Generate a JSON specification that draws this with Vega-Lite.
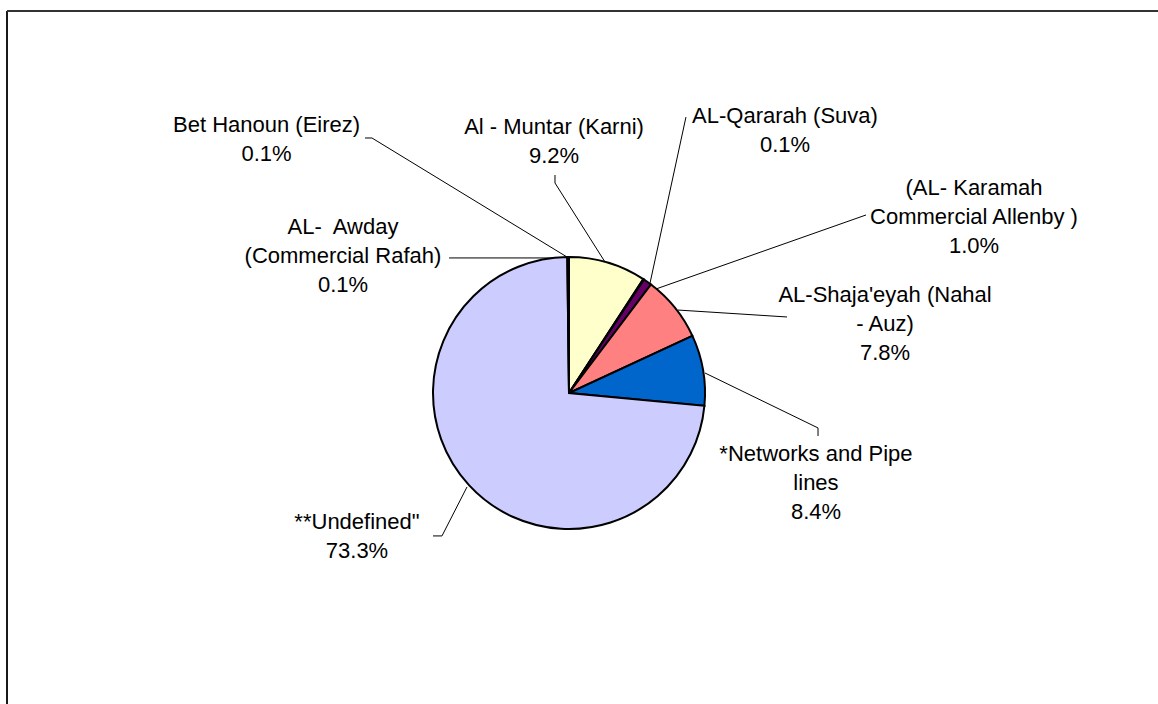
{
  "$schema": "https://vega.github.io/schema/vega-lite/v6.json",
  "width": 1151,
  "height": 693,
  "autosize": {"type": "none"},
  "padding": {"left": 7, "top": 11, "right": 0, "bottom": 0},
  "background": "white",
  "config": {
    "view": {"stroke": null},
    "font": "Liberation Sans"
  },
  "datasets": {
    "slices": [
      {"name": "Al - Muntar (Karni)", "value": 9.2, "order": 1},
      {"name": "AL-Qararah (Suva)", "value": 0.1, "order": 2},
      {"name": "(AL- Karamah Commercial Allenby )", "value": 1.0, "order": 3},
      {"name": "AL-Shaja'eyah (Nahal - Auz)", "value": 7.8, "order": 4},
      {"name": "*Networks and Pipe lines", "value": 8.4, "order": 5},
      {"name": "**Undefined\"", "value": 73.3, "order": 6},
      {"name": "AL-  Awday (Commercial Rafah)", "value": 0.1, "order": 7},
      {"name": "Bet Hanoun (Eirez)", "value": 0.1, "order": 8}
    ],
    "labels": [
      {"text": "Bet Hanoun (Eirez)\n0.1%", "lx": -2.224, "ly": 1.971},
      {"text": "Al - Muntar (Karni)\n9.2%", "lx": -0.11, "ly": 1.956},
      {"text": "AL-Qararah (Suva)\n0.1%", "lx": 1.588, "ly": 2.037},
      {"text": "(AL- Karamah\nCommercial Allenby )\n1.0%", "lx": 2.978, "ly": 1.507},
      {"text": "AL-Shaja'eyah (Nahal\n- Auz)\n7.8%", "lx": 2.324, "ly": 0.721},
      {"text": "*Networks and Pipe\nlines\n8.4%", "lx": 1.816, "ly": -0.449},
      {"text": "**Undefined\"\n73.3%", "lx": -1.559, "ly": -0.949},
      {"text": "AL-\u00a0 Awday\n(Commercial Rafah)\n0.1%", "lx": -1.662, "ly": 1.221}
    ],
    "leaders": [
      {"x": -1.5, "y": 1.875, "x2": -1.449, "y2": 1.875},
      {"x": -1.449, "y": 1.875, "x2": -0.0147, "y2": 1.0},
      {"x": -0.103, "y": 1.603, "x2": -0.103, "y2": 1.544},
      {"x": -0.103, "y": 1.544, "x2": 0.265, "y2": 0.963},
      {"x": -0.882, "y": 0.993, "x2": -0.0147, "y2": 0.993},
      {"x": 0.86, "y": 2.029, "x2": 0.596, "y2": 0.809},
      {"x": 2.184, "y": 1.309, "x2": 0.64, "y2": 0.765},
      {"x": 1.603, "y": 0.559, "x2": 0.801, "y2": 0.61},
      {"x": 1.0, "y": 0.147, "x2": 1.831, "y2": -0.257},
      {"x": 1.831, "y": -0.257, "x2": 1.831, "y2": -0.316},
      {"x": -0.75, "y": -0.691, "x2": -0.934, "y2": -1.051},
      {"x": -0.934, "y": -1.051, "x2": -1.0, "y2": -1.051}
    ]
  },
  "layer": [
    {
      "data": {"values": [{"edge": "left"}]},
      "mark": {"type": "rule", "color": "#1a1a1a", "strokeWidth": 2},
      "encoding": {
        "x": {"datum": -4.1324, "type": "quantitative", "scale": {"domain": [-4.1324, 4.3309], "nice": false, "zero": false}, "axis": null},
        "y": {"datum": -2.2868, "type": "quantitative", "scale": {"domain": [-2.2868, 2.8088], "nice": false, "zero": false}, "axis": null},
        "y2": {"datum": 2.8088}
      }
    },
    {
      "data": {"values": [{"edge": "top"}]},
      "mark": {"type": "rule", "color": "#333333", "strokeWidth": 2},
      "encoding": {
        "x": {"datum": -4.1324, "type": "quantitative"},
        "x2": {"datum": 4.3309},
        "y": {"datum": 2.8088, "type": "quantitative"}
      }
    },
    {
      "data": {"name": "leaders"},
      "mark": {"type": "rule", "color": "black", "strokeWidth": 1},
      "encoding": {
        "x": {"field": "x", "type": "quantitative"},
        "y": {"field": "y", "type": "quantitative"},
        "x2": {"field": "x2"},
        "y2": {"field": "y2"}
      }
    },
    {
      "data": {"name": "slices"},
      "mark": {"type": "arc", "outerRadius": 136, "stroke": "black", "strokeWidth": 2, "strokeJoin": "miter"},
      "encoding": {
        "x": {"datum": 0, "type": "quantitative"},
        "y": {"datum": 0, "type": "quantitative"},
        "theta": {"field": "value", "type": "quantitative", "stack": true},
        "order": {"field": "order", "type": "quantitative"},
        "color": {
          "field": "name",
          "type": "nominal",
          "legend": null,
          "scale": {
            "domain": ["Al - Muntar (Karni)", "AL-Qararah (Suva)", "(AL- Karamah Commercial Allenby )", "AL-Shaja'eyah (Nahal - Auz)", "*Networks and Pipe lines", "**Undefined\"", "AL-  Awday (Commercial Rafah)", "Bet Hanoun (Eirez)"],
            "range": ["#FFFFCC", "#CCFFFF", "#660066", "#FF8080", "#0066CC", "#CCCCFF", "#993366", "#9999FF"]
          }
        }
      }
    },
    {
      "data": {"name": "labels"},
      "mark": {"type": "text", "font": "Liberation Sans", "fontSize": 22, "color": "black", "align": "center", "baseline": "middle", "lineBreak": "\n", "lineHeight": 29},
      "encoding": {
        "x": {"field": "lx", "type": "quantitative"},
        "y": {"field": "ly", "type": "quantitative"},
        "text": {"field": "text", "type": "nominal"}
      }
    }
  ]
}
